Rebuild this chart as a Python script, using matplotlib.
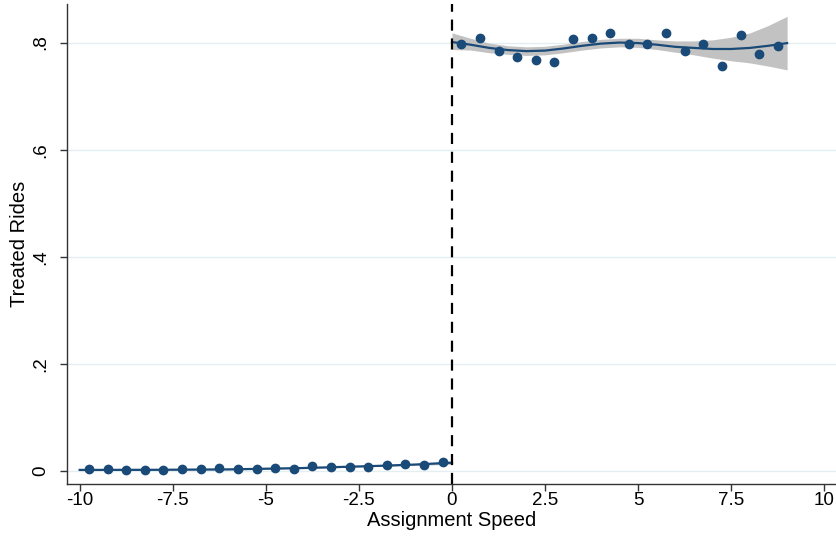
import matplotlib
matplotlib.use("Agg")
import matplotlib.pyplot as plt
import numpy as np

plt.rcParams['font.family'] = ['Liberation Sans', 'DejaVu Sans']

# Binned scatter points
left_x = [-9.75, -9.25, -8.75, -8.25, -7.75, -7.25, -6.75, -6.25, -5.75, -5.25,
          -4.75, -4.25, -3.75, -3.25, -2.75, -2.25, -1.75, -1.25, -0.75, -0.25]
left_y = [0.003, 0.003, 0.002, 0.002, 0.002, 0.0044, 0.0044, 0.0056, 0.0044, 0.0044,
          0.0056, 0.0044, 0.0094, 0.008, 0.0069, 0.008, 0.0106, 0.013, 0.0106, 0.017]

right_x = [0.25, 0.75, 1.25, 1.75, 2.25, 2.75, 3.25, 3.75, 4.25, 4.75,
           5.25, 5.75, 6.25, 6.75, 7.25, 7.75, 8.25, 8.75]
right_y = [0.797, 0.808, 0.785, 0.773, 0.768, 0.764, 0.806, 0.808, 0.817, 0.798,
           0.798, 0.818, 0.784, 0.797, 0.757, 0.814, 0.779, 0.793]

# Fitted curves with confidence bands
lfit_x = [-10, -8, -6, -4, -2, -1, 0]
lfit_y = [0.002, 0.0022, 0.003, 0.0055, 0.0095, 0.012, 0.0155]
lfit_lo = [0.0005, 0.001, 0.002, 0.0045, 0.0085, 0.0105, 0.0125]
lfit_hi = [0.0035, 0.0034, 0.004, 0.0065, 0.0105, 0.0135, 0.0185]

rfit_x = [0, 0.5, 1.0, 1.5, 2.0, 2.5, 3.0, 3.5, 4.0, 4.5, 5.0, 5.5, 6.0, 6.5, 7.0, 7.5, 8.0, 8.5, 9.0]
rfit_y = [0.801, 0.796, 0.790, 0.786, 0.784, 0.785, 0.789, 0.794, 0.798, 0.800,
          0.799, 0.796, 0.792, 0.790, 0.788, 0.788, 0.790, 0.794, 0.799]
rfit_lo = [0.787, 0.786, 0.781, 0.778, 0.776, 0.777, 0.781, 0.786, 0.790, 0.792,
           0.791, 0.787, 0.782, 0.777, 0.771, 0.766, 0.762, 0.756, 0.749]
rfit_hi = [0.818, 0.808, 0.799, 0.794, 0.792, 0.793, 0.797, 0.802, 0.806, 0.808,
           0.808, 0.805, 0.803, 0.803, 0.805, 0.810, 0.818, 0.832, 0.849]

xticks = [-10, -7.5, -5, -2.5, 0, 2.5, 5, 7.5, 10]
xtick_labels = ["-10", "-7.5", "-5", "-2.5", "0", "2.5", "5", "7.5", "10"]
yticks = [0, 0.2, 0.4, 0.6, 0.8]
ytick_labels = ["0", ".2", ".4", ".6", ".8"]

navy = "#1a4a78"
band = "#c2c2c2"

fig = plt.figure(figsize=(8.37, 5.43), dpi=100)
ax = fig.add_axes([67/837, (543-484)/543, (837-67)/837, (484-4)/543])

for y in yticks:
    ax.axhline(y, color="#e3eef0", lw=1.0, zorder=0)

ax.fill_between(lfit_x, lfit_lo, lfit_hi, color=band, lw=0, zorder=1)
ax.fill_between(rfit_x, rfit_lo, rfit_hi, color=band, lw=0, zorder=1)
ax.plot(lfit_x, lfit_y, color=navy, lw=1.6, zorder=2)
ax.plot(rfit_x, rfit_y, color=navy, lw=1.6, zorder=2)

ax.plot(left_x, left_y, 'o', color=navy, ms=6, mec=navy, zorder=3)
ax.plot(right_x, right_y, 'o', color=navy, ms=6, mec=navy, zorder=3)

ax.axvline(0, color="black", lw=1.6, ls=(0, (5, 3.5)), zorder=4)

ax.set_xlim(-10.34, 10.34)
ax.set_ylim(-0.0243, 0.872)

ax.set_xticks(xticks)
ax.set_xticklabels(xtick_labels, fontsize=13.5)
ax.set_yticks(yticks)
ax.set_yticklabels(ytick_labels, fontsize=13.5, rotation=90, va='center')

for s in ['top', 'right']:
    ax.spines[s].set_visible(False)
for s in ['left', 'bottom']:
    ax.spines[s].set_color("#333333")
    ax.spines[s].set_linewidth(1.0)
ax.tick_params(axis='both', direction='out', length=5, width=1.0, color="#333333")
ax.tick_params(axis='x', pad=1)
ax.tick_params(axis='y', pad=8)

ax.set_xlabel("Assignment Speed", fontsize=14.5, labelpad=1)
ax.set_ylabel("Treated Rides", fontsize=14.5, labelpad=2)

fig.savefig("out.png", dpi=100)
